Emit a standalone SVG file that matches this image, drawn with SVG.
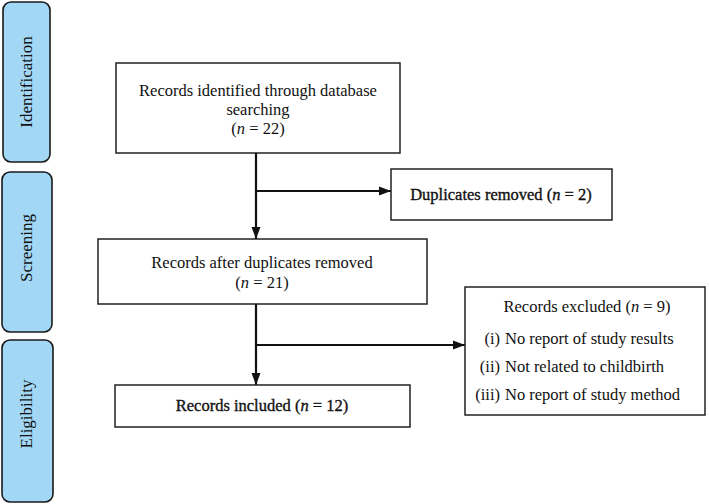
<svg xmlns="http://www.w3.org/2000/svg" width="709" height="504" viewBox="0 0 709 504">
<style>
.stage{fill:#a2d8f6;stroke:#1a1a1a;stroke-width:1.6}
.box{fill:#fff;stroke:#222;stroke-width:1.5}
.t{font-family:"Liberation Serif","Times New Roman",serif;font-size:16.5px;fill:#111;text-anchor:middle}
.te{font-family:"Liberation Serif","Times New Roman",serif;font-size:16.5px;fill:#111;text-anchor:end}
.ts{font-family:"Liberation Serif","Times New Roman",serif;font-size:16.5px;fill:#111;text-anchor:start}
.b{stroke:#111;stroke-width:0.35}
.st{font-family:"Liberation Serif","Times New Roman",serif;font-size:17px;fill:#111;text-anchor:middle}
.c{fill:none;stroke:#111;stroke-width:2.2}
</style>
<defs>
<marker id="ah" markerUnits="userSpaceOnUse" markerWidth="12" markerHeight="12" viewBox="0 0 12 12" refX="12" refY="6" orient="auto">
<path d="M0,1.5 L12,6 L0,10.5 Z" fill="#111"/>
</marker>
</defs>
<rect width="709" height="504" fill="#fff"/>
<g id="stage-identification">
<rect class="stage" x="3" y="2" width="47" height="160" rx="8"/>
<text class="st" transform="translate(32,82) rotate(-90)">Identification</text>
</g>
<g id="stage-screening">
<rect class="stage" x="2" y="172" width="50" height="160" rx="8"/>
<text class="st" transform="translate(32,248) rotate(-90)">Screening</text>
</g>
<g id="stage-eligibility">
<rect class="stage" x="2" y="340" width="51" height="162" rx="8"/>
<text class="st" transform="translate(32,414) rotate(-90)">Eligibility</text>
</g>
<g id="connectors">
<line class="c" x1="256" y1="153" x2="256" y2="239" marker-end="url(#ah)"/>
<line class="c" x1="256" y1="191" x2="391" y2="191" marker-end="url(#ah)"/>
<line class="c" x1="256" y1="304" x2="256" y2="385" marker-end="url(#ah)"/>
<line class="c" x1="256" y1="345" x2="465" y2="345" marker-end="url(#ah)"/>
</g>
<g id="records-identified">
<rect class="box" x="116" y="63" width="284" height="90"/>
<text class="t" x="258" y="96">Records identified through database</text>
<text class="t" x="258" y="115">searching</text>
<text class="t" x="258" y="134">(<tspan font-style="italic">n</tspan> = 22)</text>
</g>
<g id="duplicates-removed">
<rect class="box" x="391" y="169" width="221" height="51"/>
<text class="t b" x="501" y="200">Duplicates removed (<tspan font-style="italic">n</tspan> = 2)</text>
</g>
<g id="records-after">
<rect class="box" x="98" y="239" width="329" height="65"/>
<text class="t" x="262" y="268">Records after duplicates removed</text>
<text class="t" x="262" y="288">(<tspan font-style="italic">n</tspan> = 21)</text>
</g>
<g id="records-excluded">
<rect class="box" x="465" y="287" width="240" height="128"/>
<text class="t" x="587" y="312">Records excluded (<tspan font-style="italic">n</tspan> = 9)</text>
<text class="te" x="500" y="344">(i)</text>
<text class="ts" x="505" y="344">No report of study results</text>
<text class="te" x="500" y="372">(ii)</text>
<text class="ts" x="505" y="372">Not related to childbirth</text>
<text class="te" x="500" y="400">(iii)</text>
<text class="ts" x="505" y="400">No report of study method</text>
</g>
<g id="records-included">
<rect class="box" x="115" y="385" width="295" height="42"/>
<text class="t b" x="262" y="411">Records included (<tspan font-style="italic">n</tspan> = 12)</text>
</g>
</svg>
